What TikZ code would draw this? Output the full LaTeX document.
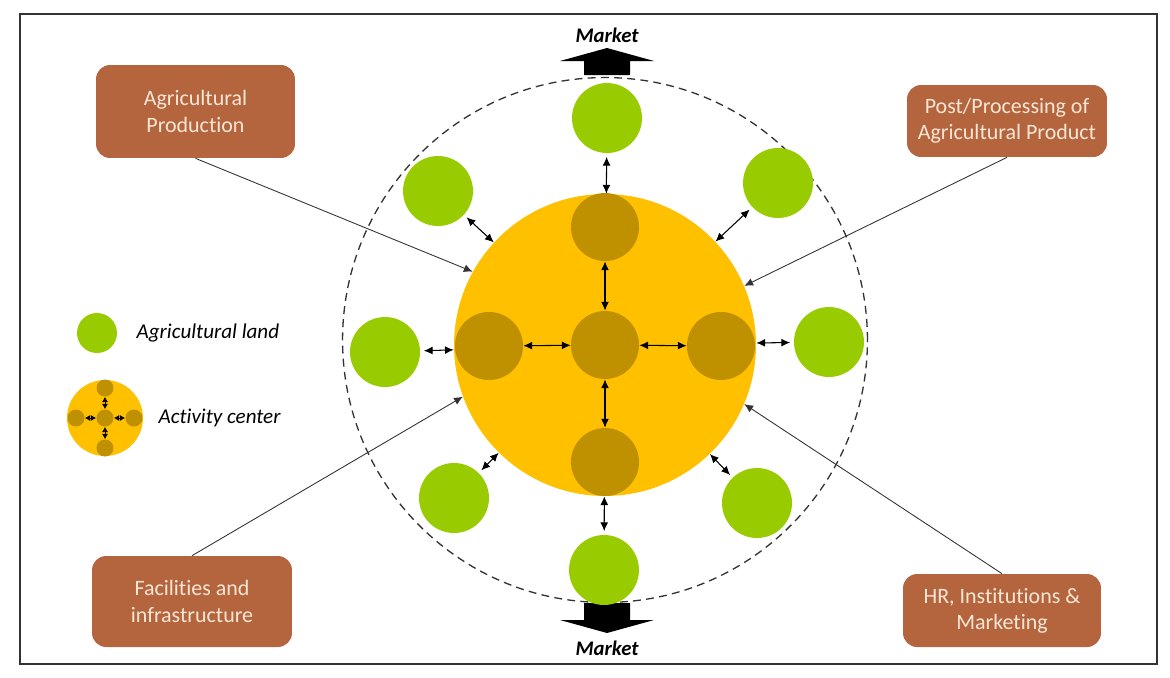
\documentclass[tikz,border=0pt]{standalone}
\usepackage{fontspec}
\setmainfont{Carlito}[Ligatures=NoCommon]
\usetikzlibrary{arrows.meta,positioning}
\definecolor{gold}{HTML}{FFC000}
\definecolor{ochre}{HTML}{BF9000}
\definecolor{leaf}{HTML}{99CC00}
\definecolor{rust}{HTML}{B5653D}
\definecolor{cream}{HTML}{F7E6D6}
\definecolor{ink}{HTML}{333333}

\begin{document}
\begin{tikzpicture}[x=0.02cm, y=-0.02cm,
  hub/.style={circle, fill=gold, minimum size=6.04cm, inner sep=0pt},
  pod/.style={circle, fill=ochre, minimum size=1.36cm, inner sep=0pt},
  land/.style={circle, fill=leaf, minimum size=1.4cm, inner sep=0pt},
  card/.style={rectangle, rounded corners=8pt, fill=rust, text=cream, align=center,
               font=\fontsize{12.5}{15}\selectfont, inner sep=0pt},
  dbl/.style={{Latex[length=5pt,width=4.5pt]}-{Latex[length=5pt,width=4.5pt]}, line width=0.6pt},
  feed/.style={-{Latex[length=5pt,width=4.5pt]}, line width=0.5pt, color=ink},
  lbl/.style={font=\fontsize{12}{14}\selectfont\itshape, inner sep=0pt},
  mkt/.style={font=\fontsize{11.8}{14}\selectfont\bfseries\itshape, inner sep=0pt},
]
  \useasboundingbox (0,0) rectangle (1170,677);
  \draw[ink, line width=0.8pt] (20,14) rectangle (1157,664);
  \draw[ink, line width=0.75pt, dash pattern=on 4.5pt off 3pt] (605,340) circle[radius=5.25cm];
  % market arrows
  \fill (584,75) -- (584,61) -- (560,61) -- (607,48) -- (654,61) -- (630,61) -- (630,75) -- cycle;
  \node[mkt] (mt) at (607,35) {Market};
  \fill (584,603) -- (630,603) -- (630,620) -- (654,620) -- (607,633) -- (560,620) -- (584,620) -- cycle;
  \node[mkt] (mb) at (607,648) {Market};
  % activity center
  \node[hub] (hub) at (605,345) {};
  \node[pod] (c) at (605,345) {}; \node[pod] (t) at (605,227) {};
  \node[pod] (b) at (605,462) {}; \node[pod] (l) at (489,346) {};
  \node[pod] (r) at (721,346) {};
  \foreach \p in {t,b,l,r} \draw[dbl] (c) -- (\p);
  % agricultural land
  \node[land] (g1) at (607,118) {}; \node[land] (g2) at (778,183) {};
  \node[land] (g3) at (829,342) {}; \node[land] (g4) at (757,503) {};
  \node[land] (g5) at (604,570) {}; \node[land] (g6) at (454,498) {};
  \node[land] (g7) at (385,352) {}; \node[land] (g8) at (438,191) {};
  \foreach \g in {g1,g2,g3,g4,g5,g6,g7,g8} \draw[dbl, shorten <=2pt] (\g) -- (hub);
  % inputs
  \node[card, minimum width=3.98cm, minimum height=1.86cm] (ap) at (195.5,111.5) {Agricultural\\Production};
  \node[card, minimum width=4.0cm, minimum height=1.44cm] (pp) at (1007,121) {Post/Processing of\\Agricultural Product};
  \node[card, minimum width=4.0cm, minimum height=1.82cm] (fi) at (192,601.5) {Facilities and\\infrastructure};
  \node[card, minimum width=3.96cm, minimum height=1.46cm] (hr) at (1002,610.5) {HR, Institutions \&\\Marketing};
  \draw[feed] (ap.south) -- (hub.151); \draw[feed] (pp.south) -- (hub.23);
  \draw[feed] (fi.north) -- (hub.200); \draw[feed] (hr.north) -- (hub.337);
  % legend
  \node[land, minimum size=0.8cm] (lg) at (97,333) {};
  \node[lbl, right=0.38cm of lg] (lgt) {Agricultural land};
  \node[hub, minimum size=1.52cm] (la) at (105,418) {};
  \node[pod, minimum size=0.34cm] (lc) at (105,418) {};
  \node[pod, minimum size=0.34cm] (lt) at (105,388) {}; \node[pod, minimum size=0.34cm] (lb) at (105,448) {};
  \node[pod, minimum size=0.34cm] (ll) at (76,418) {}; \node[pod, minimum size=0.34cm] (lr) at (134,418) {};
  \foreach \p in {lt,lb,ll,lr} \draw[{Latex[length=3pt,width=3.5pt]}-{Latex[length=3pt,width=3.5pt]}, line width=0.5pt] (lc) -- (\p);
  \node[lbl, right=0.3cm of la] (lat) {Activity center};
\end{tikzpicture}
\end{document}
